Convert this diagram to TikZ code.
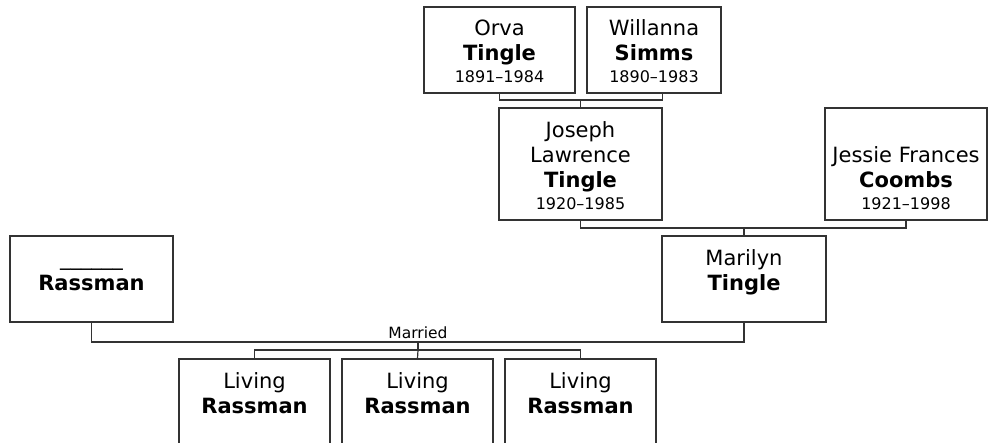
\documentclass[tikz,border=0pt]{standalone}
\usepackage{fontspec}
\setmainfont{DejaVu Sans}
\definecolor{linec}{HTML}{333333}
\newcommand{\nmfont}{\fontsize{21}{25}\selectfont}
\newcommand{\yrfont}{\fontsize{16}{22}\selectfont}
\newcommand{\pcard}[3]{\parbox[c][#2][b]{#1}{\centering #3\par\vspace*{10pt}}}
\tikzset{
  person/.style={draw=linec, line width=1.2pt, inner sep=0pt, fill=white},
  conn/.style={draw=linec, line width=1.2pt}
}
\begin{document}
\begin{tikzpicture}[x=1pt,y=-1pt]
\useasboundingbox (0,0) rectangle (988,442);
\clip (0,0) rectangle (988,442);
% generation 1
\node[person] (orva) at (499.5,50) {\pcard{151pt}{86pt}{{\nmfont Orva\par\textbf{Tingle}\par}{\yrfont 1891–1984\par}}};
\node[person] (willanna) at (654,50) {\pcard{134pt}{86pt}{{\nmfont Willanna\par\textbf{Simms}\par}{\yrfont 1890–1983\par}}};
% generation 2
\node[person] (joseph) at (580.5,164) {\pcard{163pt}{112pt}{{\nmfont Joseph\par Lawrence\par\textbf{Tingle}\par}{\yrfont 1920–1985\par}}};
\node[person] (jessie) at (906,164) {\pcard{162pt}{112pt}{{\nmfont Jessie Frances\par\textbf{Coombs}\par}{\yrfont 1921–1998\par}}};
% generation 3
\node[person] (marilyn) at (744,279) {\pcard{164pt}{86pt}{{\nmfont Marilyn\par\textbf{Tingle}\par}{\yrfont\mbox{}\par}}};
\node[person] (rassman) at (91.5,279) {\pcard{163pt}{86pt}{{\nmfont \_\_\_\_\_\_\par\textbf{Rassman}\par}{\yrfont\mbox{}\par}}};
% children
\node[person] (c1) at (254.5,402) {\pcard{151pt}{86pt}{{\nmfont Living\par\textbf{Rassman}\par}{\yrfont\mbox{}\par}}};
\node[person] (c2) at (417.5,402) {\pcard{151pt}{86pt}{{\nmfont Living\par\textbf{Rassman}\par}{\yrfont\mbox{}\par}}};
\node[person] (c3) at (580.5,402) {\pcard{151pt}{86pt}{{\nmfont Living\par\textbf{Rassman}\par}{\yrfont\mbox{}\par}}};
% connectors
\coordinate (op) at (580.5,100);
\draw[conn] (orva.south) |- (op) -| (joseph.east |- willanna.south);
\draw[conn] (op) -- (joseph.north);
\coordinate (jj) at (744,228);
\draw[conn] (joseph.south) |- (jj) -| (jessie.south);
\draw[conn] (jj) -- (marilyn.north);
\coordinate (mm) at (418,342);
\draw[conn] (rassman.south) |- (mm) -| (marilyn.south);
\node[anchor=base, font=\fontsize{15.5}{18}\selectfont, inner sep=0pt] (married) at (418,338) {Married};
\coordinate (kb) at (418,350);
\draw[conn] (mm) -- (kb);
\draw[conn] (c1.north) |- (kb) -| (c3.north);
\draw[conn] (kb) -- (c2.north);
\end{tikzpicture}
\end{document}
